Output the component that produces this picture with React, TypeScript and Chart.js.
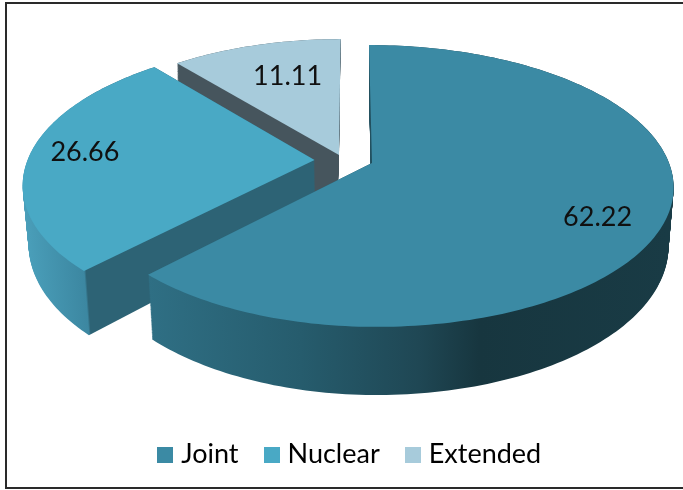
import React, { useEffect, useRef } from "react";
import { Chart, registerables } from "chart.js";

Chart.register(...registerables);

const categories = ["Joint", "Nuclear", "Extended"];
const shares = [62.22, 26.66, 11.11];
const topColors = ["#3b8aa4", "#49a9c5", "#a7cbdb"];

// explosion of each slice in disk units (right, up)
const explode = [[0, 0], [-0.2, 0.022], [-0.115, 0.059]];
const wallShift = [0, 0, 2.5];
// wall gradients: [canvas x, colour]
const wallStops: [number, string][][] = [
  [[148, "#2f6f84"], [300, "#265c6d"], [420, "#1f4754"], [480, "#17363f"], [670, "#193b45"]],
  [[22, "#4a9fba"], [84, "#3c87a1"], [86, "#2d6375"], [340, "#2d6375"]],
  [[170, "#46555d"], [350, "#46555d"]],
];
const labelPlace = [[5.5, 0.8], [1.8, 0.81], [2.6, 0.68]]; // degrees nudge, radius fraction

// perspective of the tilted disk
const CX = 372, RX = 297, RXL = 288, PC = 0.163, PA = -110.6, PB = 163, PE = -3.5, DEPTH = 57;
function project(u: number, v: number, t: number, xshift: number) {
  const d = 1 + PC * v;
  let X = CX + ((u < 0 ? RXL : RX) * u + PE * v) / d;
  let Y = (PA * v + PB) / d;
  X = CX + (X - CX) * (1 - 0.017 * t) - xshift * t;
  Y += (DEPTH / d) * t;
  return [X, Y];
}

function projectedCtx(real: any, el: any, ex: number[], t: number, fill: any, xshift: number) {
  let tx = 0, ty = 0;
  const R = el.outerRadius;
  const put = (x: number, y: number) => {
    const u = (x + tx - el.x) / R + ex[0];
    const v = -(y + ty - el.y) / R + ex[1];
    const p = project(u, v, t, xshift);
    real.lineTo(p[0], p[1]);
  };
  const api: any = {
    fillStyle: "#000",
    save() {},
    restore() {},
    translate(a: number, b: number) { tx += a; ty += b; },
    beginPath() { real.beginPath(); },
    closePath() { real.closePath(); },
    lineTo: put,
    moveTo: put,
    arc(x: number, y: number, r: number, a: number, b: number, ccw?: boolean) {
      let sweep = b - a;
      if (ccw && sweep > 0) sweep -= Math.PI * 2;
      if (!ccw && sweep < 0) sweep += Math.PI * 2;
      const n = Math.max(2, Math.ceil(Math.abs(sweep) / 0.02));
      for (let i = 0; i <= n; i++) {
        const th = a + (sweep * i) / n;
        put(x + r * Math.cos(th), y + r * Math.sin(th));
      }
    },
    fill() {
      real.fillStyle = fill || api.fillStyle;
      real.fill();
    },
  };
  return new Proxy(api, {
    get(o, k) { return k in o ? o[k] : () => {}; },
    set(o, k, val) { o[k] = val; return true; },
  });
}

const pie3d = {
  id: "pie3d",
  beforeDraw(chart: any) {
    const c = chart.ctx;
    c.save();
    c.fillStyle = "#fff";
    c.fillRect(0, 0, chart.width, chart.height);
    c.strokeStyle = "#2a2a2a";
    c.lineWidth = 2;
    c.strokeRect(6, 3, 760, 485);
    c.restore();
  },
  beforeDatasetsDraw(chart: any) {
    const c = chart.ctx;
    const els = chart.getDatasetMeta(0).data;
    c.save();
    [2, 1, 0].forEach((i) => {
      for (let t = 1; t > 0; t -= 1 / 70) {
        const s = 1 - 0.017 * t;
        const g = c.createLinearGradient(0, 0, 683, 0);
        wallStops[i].forEach(([x, col]) => {
          const pos = (CX + (x - CX) * s) / 683;
          g.addColorStop(Math.min(1, Math.max(0, pos)), col);
        });
        els[i].draw(projectedCtx(c, els[i], explode[i], t, g, wallShift[i]));
      }
      els[i].draw(projectedCtx(c, els[i], explode[i], 0, null, 0));
    });
    c.fillStyle = "#101010";
    c.font = "27px Lato";
    c.textAlign = "center";
    c.textBaseline = "middle";
    els.forEach((el: any, i: number) => {
      const mid = (el.startAngle + el.endAngle) / 2 + (labelPlace[i][0] * Math.PI) / 180;
      const f = labelPlace[i][1];
      const u = f * Math.cos(mid) + explode[i][0];
      const v = -f * Math.sin(mid) + explode[i][1];
      const p = project(u, v, 0, 0);
      c.fillText(String(shares[i]), p[0], p[1]);
    });
    c.restore();
    return false;
  },
};

function swatch(color: string) {
  const s = document.createElement("canvas");
  s.width = 16;
  s.height = 16;
  const x = s.getContext("2d")!;
  x.fillStyle = color;
  x.fillRect(0, 0, 16, 16);
  return s;
}

export default function App() {
  const ref = useRef<HTMLCanvasElement>(null);
  useEffect(() => {
    const chart = new Chart(ref.current!, {
      type: "pie",
      data: {
        labels: categories,
        datasets: [{ data: shares, backgroundColor: topColors, borderWidth: 0 }],
      },
      options: {
        responsive: false,
        animation: false,
        layout: { padding: { left: 21, bottom: 12 } },
        plugins: {
          tooltip: { enabled: false },
          legend: {
            position: "bottom",
            labels: {
              usePointStyle: true,
              boxWidth: 5,
              boxHeight: 5,
              padding: 30.5,
              color: "#101010",
              font: { family: "Lato", size: 27 },
              generateLabels: () =>
                categories.map((text, i) => ({
                  text,
                  index: i,
                  fillStyle: topColors[i],
                  strokeStyle: topColors[i],
                  lineWidth: 0,
                  pointStyle: swatch(topColors[i]),
                })),
            },
          },
        },
      },
      plugins: [pie3d],
    } as any);
    return () => chart.destroy();
  }, []);
  return (
    <div style={{ position: "fixed", left: 0, top: 0, width: 683, height: 490, overflow: "hidden" }}>
      <canvas ref={ref} width={683} height={490} style={{ display: "block" }} />
    </div>
  );
}
